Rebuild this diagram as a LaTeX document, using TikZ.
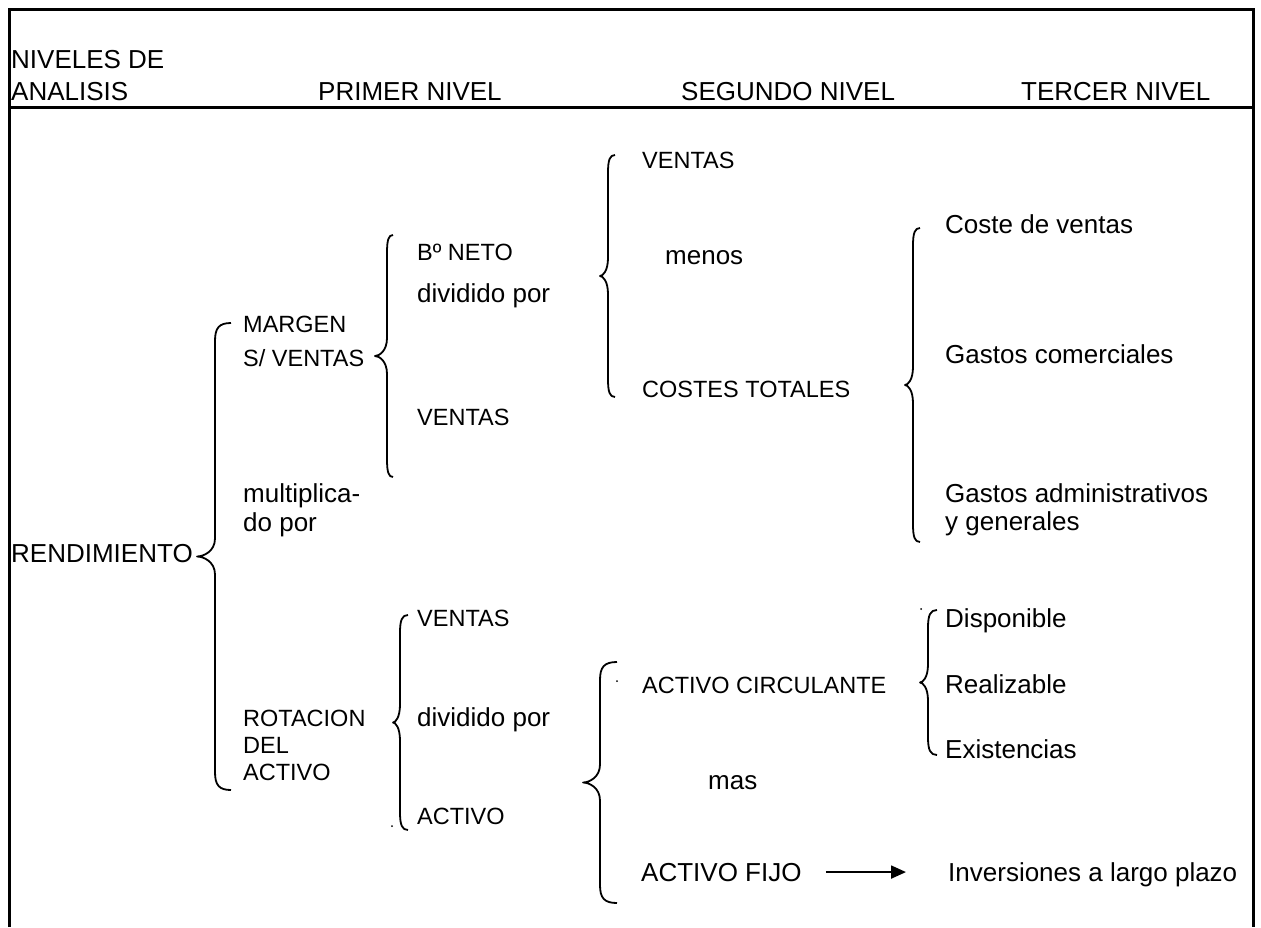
\documentclass[tikz,border=0pt]{standalone}
\usepackage{fontspec}
\setmainfont{Liberation Sans}
\usetikzlibrary{arrows.meta}
\newcommand{\curlybr}[5]{% #1 tip x, #2 stem x, #3 end x, #4 top y, #5 bottom y
  \draw[bracestyle] (#3,#4) .. controls ({#2+0.25*(#3-#2)},#4) and (#2,#4+5) .. (#2,#4+18)
    -- ({#2},{(#4+#5)/2-18}) .. controls ({#2},{(#4+#5)/2-5}) and ({#1+0.35*(#2-#1)},{(#4+#5)/2}) .. ({#1},{(#4+#5)/2})
    .. controls ({#1+0.35*(#2-#1)},{(#4+#5)/2}) and ({#2},{(#4+#5)/2+5}) .. ({#2},{(#4+#5)/2+18})
    -- (#2,#5-18) .. controls (#2,#5-5) and ({#2+0.25*(#3-#2)},#5) .. (#3,#5);}
\begin{document}
\begin{tikzpicture}[x=1pt,y=-1pt,
  bracestyle/.style={line width=1.8pt,line join=round},
  frame/.style={line width=3pt},
  big/.style={anchor=base west,inner sep=0pt,font=\fontsize{26}{30}\selectfont},
  sml/.style={anchor=base west,inner sep=0pt,font=\fontsize{23.5}{28}\selectfont},
  arr/.style={line width=2pt,-{Triangle[length=15pt,width=13pt]}}]
\useasboundingbox (0,0) rectangle (1261,927);
\fill[white] (0,0) rectangle (1261,927);
% frame
\draw[frame] (9,927) -- (9,9) -- (1253,9) -- (1253,927);
\draw[frame] (9,107) -- (1253,107);
% header
\node[big] (h1) at (11,68) {NIVELES DE};
\node[big] (h2) at (11,100) {ANALISIS};
\node[big] (h3) at (318,100) {PRIMER NIVEL};
\node[big] (h4) at (681,100) {SEGUNDO NIVEL};
\node[big] (h5) at (1021,100) {TERCER NIVEL};
% level 0
\node[big] (rend) at (11,562) {RENDIMIENTO};
% first level
\node[sml] (marg1) at (243,332) {MARGEN};
\node[sml] (marg2) at (243,366) {S/ VENTAS};
\node[big] (mult1) at (243,502) {multiplica-};
\node[big] (mult2) at (243,531) {do por};
\node[sml] (rot1) at (243,726) {ROTACION};
\node[sml] (rot2) at (243,753) {DEL};
\node[sml] (rot3) at (243,780) {ACTIVO};
% margin breakdown
\node[sml] (bn) at (417,260) {Bº NETO};
\node[big] (div1) at (417,302) {dividido por};
\node[sml] (v1) at (417,425) {VENTAS};
% rotation breakdown
\node[sml] (v2) at (417,626) {VENTAS};
\node[big] (div2) at (417,726) {dividido por};
\node[sml] (act) at (417,824) {ACTIVO};
% second level
\node[sml] (v3) at (642,168) {VENTAS};
\node[big] (menos) at (665,264) {menos};
\node[sml] (ct) at (642,397) {COSTES TOTALES};
\node[sml] (ac) at (642,693) {ACTIVO CIRCULANTE};
\node[big] (mas) at (708,789) {mas};
\node[big] (af) at (641,881) {ACTIVO FIJO};
% third level
\node[big] (cv) at (945,233) {Coste de ventas};
\node[big] (gc) at (945,363) {Gastos comerciales};
\node[big] (ga1) at (945,502) {Gastos administrativos};
\node[big] (ga2) at (945,530) {y generales};
\node[big] (disp) at (945,627) {Disponible};
\node[big] (real) at (945,693) {Realizable};
\node[big] (exis) at (945,758) {Existencias};
\node[big] (inv) at (948,881) {Inversiones a largo plazo};
% arrow
\draw[arr,shorten <=24pt,shorten >=42pt] (af.east) -- (af.east -| inv.west);
% braces
\curlybr{197}{215}{231}{323}{790}
\curlybr{375}{387}{393}{235}{477}
\curlybr{600}{608}{615}{155}{397}
\curlybr{905}{913}{920}{228}{542}
\curlybr{393}{400}{408}{615}{830}
\curlybr{583}{600}{617}{662}{903}
\curlybr{920}{928}{937}{610}{755}
% stray dots
\fill (392,826) circle (1pt);
\fill (617,681) circle (1pt);
\fill (921,609) circle (1pt);
\end{tikzpicture}
\end{document}
